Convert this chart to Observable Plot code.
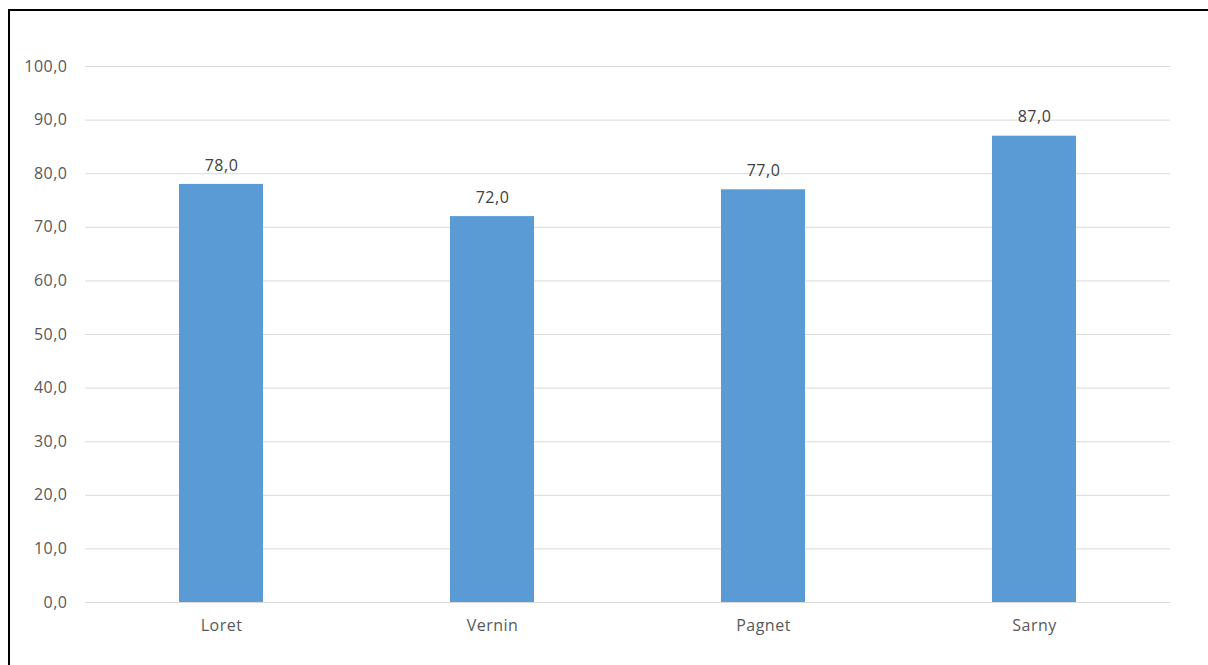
<!DOCTYPE html>
<html>
<head>
<meta charset="utf-8">
<script src="https://cdn.jsdelivr.net/npm/d3@7"></script>
<script src="https://cdn.jsdelivr.net/npm/@observablehq/plot@0.6"></script>
<style>
  html, body { margin: 0; padding: 0; background: #fff; }
  #wrap { position: relative; width: 1208px; height: 665px; overflow: hidden; }
  #frame { position: absolute; left: 8px; top: 9px; width: 1300px; height: 800px;
           border-left: 2px solid #000; border-top: 2px solid #000; pointer-events: none; }
  #chart { position: absolute; left: 0; top: 0; }
</style>
</head>
<body>
<div id="wrap"><div id="chart"></div><div id="frame"></div></div>
<script>
const categories = ["Loret", "Vernin", "Pagnet", "Sarny"];
const values = [78.0, 72.0, 77.0, 87.0];
const yTicks = [0, 10, 20, 30, 40, 50, 60, 70, 80, 90, 100];

const data = categories.map((c, i) => ({ category: c, value: values[i] }));
const fmt = d => d.toFixed(1).replace(".", ",");

const chart = Plot.plot({
  width: 1208,
  height: 665,
  marginLeft: 85,
  marginRight: 38,
  marginTop: 66,
  marginBottom: 63,
  style: { fontFamily: "'Open Sans', sans-serif", fontSize: "16px", color: "#595959", background: "transparent", letterSpacing: "0.5px" },
  x: { domain: categories, paddingInner: 0.69, paddingOuter: 0.345, label: null },
  y: { domain: [0, 100], label: null },
  marks: [
    Plot.gridY(yTicks, { stroke: "#d9d9d9", strokeOpacity: 1 }),
    Plot.axisY(yTicks, { tickSize: 0, tickPadding: 18, tickFormat: fmt, label: null, fill: "#595959", fontSize: 16 }),
    Plot.axisX({ tickSize: 0, tickPadding: 17, label: null, fill: "#595959", fontSize: 16 }),
    Plot.barY(data, { x: "category", y: "value", fill: "#5b9bd5" }),
    Plot.text(data, { x: "category", y: "value", text: d => fmt(d.value), dy: -19, fill: "#404040", fontSize: 16 })
  ]
});
document.getElementById("chart").appendChild(chart);
</script>
</body>
</html>
